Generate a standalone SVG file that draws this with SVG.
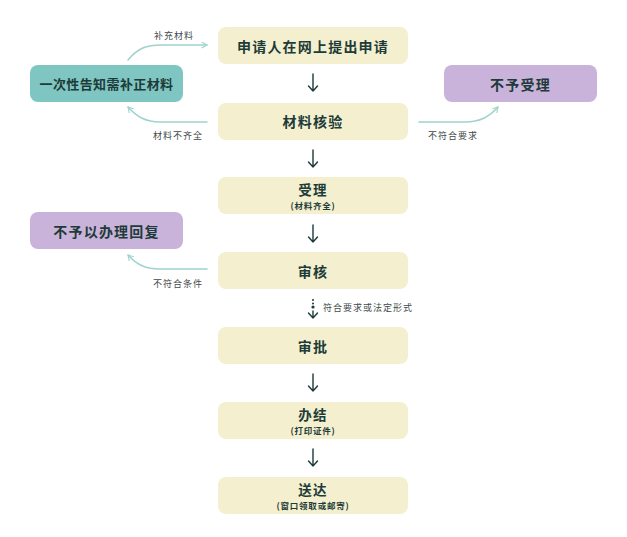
<svg xmlns="http://www.w3.org/2000/svg" width="627" height="537" viewBox="0 0 627 537">
<defs>
<style>
.main{fill:#f4f0cf;}
.teal{fill:#7fc6c2;}
.purple{fill:#c9b3da;}
.t{font-family:"Noto Sans CJK SC","Noto Sans",sans-serif;font-weight:bold;fill:#1d3b38;text-anchor:middle;dominant-baseline:central;}
.title{font-size:14px;letter-spacing:1.2px;}
.title2{font-size:13.5px;letter-spacing:1.2px;}
.side{font-size:13px;letter-spacing:0.4px;}
.sub{font-size:8.5px;letter-spacing:0.8px;}
.lbl{font-family:"Noto Sans CJK SC","Noto Sans",sans-serif;font-size:9px;letter-spacing:1px;fill:#3f4a4a;dominant-baseline:central;}
.curve{fill:none;stroke:#9fd4cc;stroke-width:1.6;stroke-linecap:round;}
.down{fill:none;stroke:#1d3b38;stroke-width:1.4;stroke-linecap:round;stroke-linejoin:round;}
</style>
<marker id="ah" viewBox="0 0 10 10" refX="8" refY="5" markerWidth="7" markerHeight="7" orient="auto-start-reverse" markerUnits="userSpaceOnUse">
<path d="M1,1 L8,5 L1,9" fill="none" stroke="#9fd4cc" stroke-width="1.6" stroke-linecap="round" stroke-linejoin="round"/>
</marker>
</defs>
<rect width="627" height="537" fill="#ffffff"/>

<g id="connectors">
<path class="curve" d="M128,60 C138,48 146,45 162,45 L207,45" marker-end="url(#ah)"/>
<path class="curve" d="M207,122 L160,122 C146,122 137,117 128,107" marker-end="url(#ah)"/>
<path class="curve" d="M419,122 L465,122 C480,122 489,117 498,107" marker-end="url(#ah)"/>
<path class="curve" d="M207,269 L160,269 C146,269 137,265 128,255" marker-end="url(#ah)"/>
<g class="down">
<path d="M313,74 V91 M308.5,86 L313,91 L317.5,86"/>
<path d="M313,150 V167 M308.5,162 L313,167 L317.5,162"/>
<path d="M313,225 V242 M308.5,237 L313,242 L317.5,237"/>
<path d="M313,374 V391 M308.5,386 L313,391 L317.5,386"/>
<path d="M313,449 V466 M308.5,461 L313,466 L317.5,461"/>
<path d="M313,311 V318 M308.5,313 L313,318 L317.5,313"/>
</g>
<circle cx="313" cy="300" r="1" fill="#1d3b38"/>
<circle cx="313" cy="303.5" r="1" fill="#1d3b38"/>
<circle cx="313" cy="307" r="1.6" fill="#1d3b38"/>
<text class="lbl" x="154" y="35">补充材料</text>
<text class="lbl" x="153" y="135">材料不齐全</text>
<text class="lbl" x="428" y="135">不符合要求</text>
<text class="lbl" x="153" y="283">不符合条件</text>
<text class="lbl" x="323" y="307">符合要求或法定形式</text>
</g>

<g id="n1"><rect class="main" x="218" y="27" width="190" height="37" rx="8"/><text class="t title" x="313" y="45.5">申请人在网上提出申请</text></g>
<g id="n2"><rect class="main" x="218" y="103" width="190" height="37" rx="8"/><text class="t title" x="313" y="121">材料核验</text></g>
<g id="n3"><rect class="main" x="218" y="177" width="190" height="37" rx="8"/><text class="t title2" x="313" y="188.5">受理</text><text class="t sub" x="313" y="204.5">(材料齐全)</text></g>
<g id="n4"><rect class="main" x="218" y="252" width="190" height="37" rx="8"/><text class="t title" x="313" y="270.5">审核</text></g>
<g id="n5"><rect class="main" x="218" y="327" width="190" height="37" rx="8"/><text class="t title" x="313" y="345.5">审批</text></g>
<g id="n6"><rect class="main" x="218" y="402" width="190" height="37" rx="8"/><text class="t title2" x="313" y="413.5">办结</text><text class="t sub" x="313" y="429.5">(打印证件)</text></g>
<g id="n7"><rect class="main" x="218" y="477" width="190" height="37" rx="8"/><text class="t title2" x="313" y="488.5">送达</text><text class="t sub" x="313" y="504.5">(窗口领取或邮寄)</text></g>
<g id="n8"><rect class="teal" x="30" y="65" width="153" height="37" rx="8"/><text class="t side" x="106.5" y="83.5">一次性告知需补正材料</text></g>
<g id="n9"><rect class="purple" x="444" y="65" width="153" height="37" rx="8"/><text class="t title" x="520.5" y="83.5">不予受理</text></g>
<g id="n10"><rect class="purple" x="30" y="212" width="153" height="37" rx="8"/><text class="t title" x="106.5" y="230.5">不予以办理回复</text></g>
</svg>
